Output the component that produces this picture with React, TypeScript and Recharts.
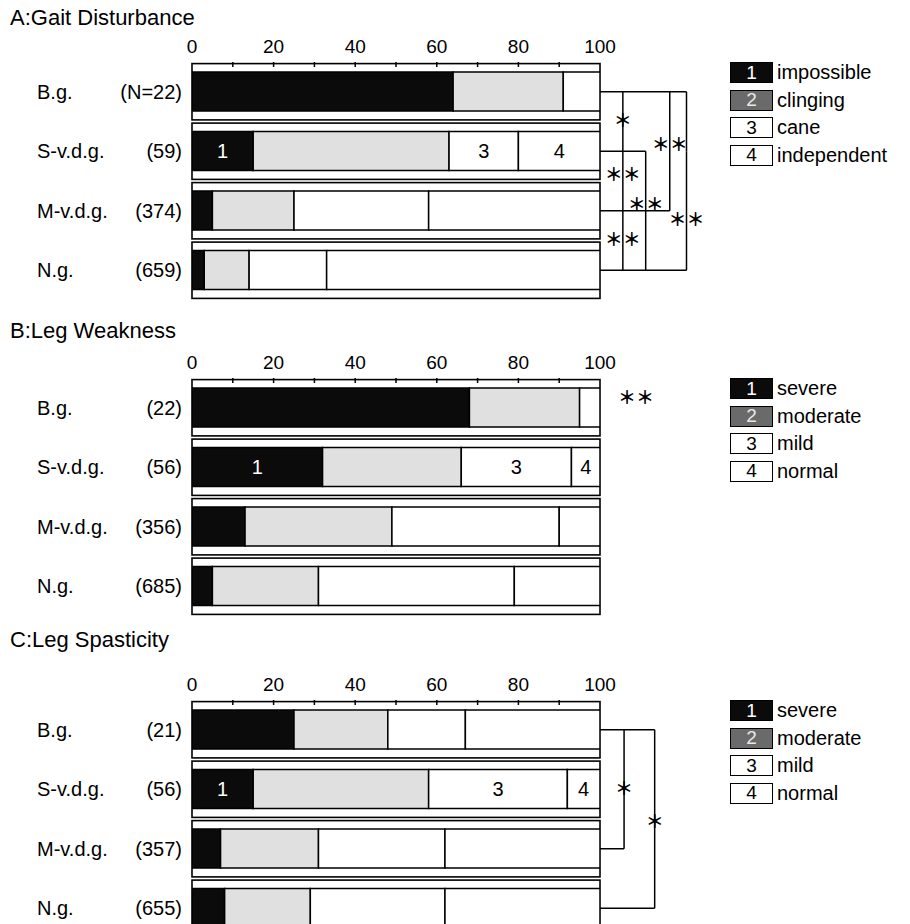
import React from 'react';
import {
  BarChart,
  Bar,
  XAxis,
  YAxis,
  ReferenceArea,
  ReferenceLine,
  ReferenceDot,
  LabelList,
  Legend,
} from 'recharts';

const FONT = '"Liberation Sans", Arial, Helvetica, sans-serif';
const STAR_FONT = '"Noto Sans CJK JP", "Noto Sans CJK SC", sans-serif';

const GROUPS = ['B.g.', 'S-v.d.g.', 'M-v.d.g.', 'N.g.'];
const LABEL_ROW = 'S-v.d.g.';
const MAJOR_TICKS = [0, 20, 40, 60, 80, 100];
const MINOR_TICKS = [10, 20, 30, 40, 50, 60, 70, 80, 90];

// A: Gait disturbance
const GAIT_N = ['N=22', '59', '374', '659'];
const GAIT_1 = [64, 15, 5, 3];
const GAIT_2 = [27, 48, 20, 11];
const GAIT_3 = [9, 17, 33, 19];
const GAIT_4 = [0, 20, 42, 67];
const GAIT_LEGEND = ['impossible', 'clinging', 'cane', 'independent'];

// B: Leg weakness
const WEAK_N = ['22', '56', '356', '685'];
const WEAK_1 = [68, 32, 13, 5];
const WEAK_2 = [27, 34, 36, 26];
const WEAK_3 = [5, 27, 41, 48];
const WEAK_4 = [0, 7, 10, 21];
const WEAK_LEGEND = ['severe', 'moderate', 'mild', 'normal'];

// C: Leg spasticity
const SPAS_N = ['21', '56', '357', '655'];
const SPAS_1 = [25, 15, 7, 8];
const SPAS_2 = [23, 43, 24, 21];
const SPAS_3 = [19, 34, 31, 33];
const SPAS_4 = [33, 8, 38, 38];
const SPAS_LEGEND = ['severe', 'moderate', 'mild', 'normal'];

// significance brackets (x in % units, right of the 100 line)
const GAIT_ARMS = [
  { row: 'B.g.', to: 121.2 },
  { row: 'S-v.d.g.', to: 111.2 },
  { row: 'M-v.d.g.', to: 117.1 },
  { row: 'N.g.', to: 121.2 },
];
const GAIT_LINKS = [
  { x: 105.6, from: 'B.g.', to: 'S-v.d.g.', mark: '＊', nudge: 0 },
  { x: 105.6, from: 'S-v.d.g.', to: 'M-v.d.g.', mark: '＊＊', nudge: -5 },
  { x: 105.6, from: 'M-v.d.g.', to: 'N.g.', mark: '＊＊', nudge: 0 },
  { x: 111.2, from: 'S-v.d.g.', to: 'N.g.', mark: '＊＊', nudge: -5 },
  { x: 117.1, from: 'B.g.', to: 'M-v.d.g.', mark: '＊＊', nudge: -6 },
  { x: 121.2, from: 'B.g.', to: 'S-v.d.g.', mark: '', nudge: 0 },
  { x: 121.2, from: 'S-v.d.g.', to: 'N.g.', mark: '＊＊', nudge: 10 },
];
const WEAK_MARKS = [{ x: 108.8, row: 'B.g.', mark: '＊＊', nudge: -9 }];
const SPAS_ARMS = [
  { row: 'B.g.', to: 113.4 },
  { row: 'M-v.d.g.', to: 105.9 },
  { row: 'N.g.', to: 113.4 },
];
const SPAS_LINKS = [
  { x: 105.9, from: 'B.g.', to: 'M-v.d.g.', mark: '＊', nudge: 0 },
  { x: 113.4, from: 'B.g.', to: 'N.g.', mark: '＊', nudge: 4 },
];

const BAR_FILLS = ['#0b0b0b', '#e0e0e0', '#ffffff', '#ffffff'];
const BOX_FILLS = ['#0b0b0b', '#6a6a6a', '#ffffff', '#ffffff'];
const BOX_TEXT = ['#ffffff', '#e8e8e8', '#000000', '#000000'];

type Arm = { row: string; to: number };
type Link = { x: number; from: string; to: string; mark: string; nudge: number };
type Mark = { x: number; row: string; mark: string; nudge: number };

interface PanelProps {
  top: number;
  counts: string[];
  series: number[][];
  legend: string[];
  arms?: Arm[];
  links?: Link[];
  marks?: Mark[];
}

function GroupTick(props: any) {
  const { x, y, payload, index, counts } = props;
  return (
    <g>
      <text x={x - 145} y={y} dominantBaseline="central" fontSize={20} fontFamily={FONT} fill="#000">
        {payload.value}
      </text>
      <text x={x} y={y} dominantBaseline="central" textAnchor="end" fontSize={20} fontFamily={FONT} fill="#000">
        {`(${counts[index]})`}
      </text>
    </g>
  );
}

// each category band is outlined slightly inset, so neighbouring bands give a double rule
function BandFrame(props: any) {
  const { x, y, width, height } = props;
  return (
    <rect
      x={x}
      y={y + 1.6}
      width={width}
      height={height - 3.2}
      fill="none"
      stroke="#000"
      strokeWidth={1.6}
    />
  );
}

function LegendBoxes({ payload, names }: { payload?: any[]; names: string[] }) {
  const items = [...(payload || [])].sort((a, b) => names.indexOf(a.value) - names.indexOf(b.value));
  return (
    <div style={{ fontFamily: FONT }}>
      {items.map((item) => {
        const i = names.indexOf(item.value);
        return (
          <div key={item.value} style={{ display: 'flex', alignItems: 'center', height: 27.5 }}>
            <span
              style={{
                width: 43,
                height: 21,
                boxSizing: 'border-box',
                border: '1.5px solid #000',
                background: BOX_FILLS[i],
                color: BOX_TEXT[i],
                display: 'flex',
                alignItems: 'center',
                justifyContent: 'center',
                fontSize: 19,
              }}
            >
              {i + 1}
            </span>
            <span style={{ marginLeft: 4, fontSize: 20, color: '#000' }}>{item.value}</span>
          </div>
        );
      })}
    </div>
  );
}

function Panel({ top, counts, series, legend, arms = [], links = [], marks = [] }: PanelProps) {
  const data = GROUPS.map((name, i) => ({
    name,
    g1: series[0][i],
    g2: series[1][i],
    g3: series[2][i],
    g4: series[3][i],
  }));
  const starLabel = (mark: string, nudge: number) => ({
    value: mark,
    position: 'center' as const,
    fontSize: 18,
    fontWeight: 700,
    fill: '#000',
    fontFamily: STAR_FONT,
    dy: nudge - 1,
  });

  return (
    <div style={{ position: 'absolute', left: 0, top: top - 40, width: 910, height: 280 }}>
      <BarChart
        width={910}
        height={280}
        data={data}
        layout="vertical"
        barSize={39}
        margin={{ top: 10, right: 310, bottom: 2, left: 0 }}
      >
        <XAxis
          type="number"
          orientation="top"
          domain={[0, 100]}
          ticks={MAJOR_TICKS}
          interval={0}
          allowDataOverflow
          axisLine={false}
          tickLine={false}
          tickSize={0}
          tickMargin={9}
          height={30}
          tick={{ fill: '#000', fontSize: 19, fontFamily: FONT }}
        />
        <XAxis
          xAxisId="minor"
          type="number"
          orientation="top"
          mirror
          domain={[0, 100]}
          ticks={MINOR_TICKS}
          interval={0}
          allowDataOverflow
          axisLine={false}
          tick={() => <g />}
          tickSize={5}
          tickLine={{ stroke: '#000', strokeWidth: 1.5 }}
          height={30}
        />
        <YAxis
          type="category"
          dataKey="name"
          width={192}
          interval={0}
          axisLine={false}
          tickLine={false}
          tickSize={0}
          tickMargin={10}
          tick={(p: any) => <GroupTick {...p} counts={counts} />}
        />
        {GROUPS.map((g) => (
          <ReferenceArea key={g} y1={g} y2={g} ifOverflow="visible" shape={(p: any) => <BandFrame {...p} />} />
        ))}
        {[0, 1, 2, 3].map((k) => (
          <Bar
            key={k}
            dataKey={`g${k + 1}`}
            name={legend[k]}
            stackId="s"
            fill={BAR_FILLS[k]}
            stroke="#000"
            strokeWidth={1.5}
            isAnimationActive={false}
          >
            <LabelList
              dataKey={(d: any) => (d.name === LABEL_ROW && k !== 1 ? String(k + 1) : undefined)}
              position="center"
              fill={k === 0 ? '#fff' : '#000'}
              fontSize={20}
              fontFamily={FONT}
            />
          </Bar>
        ))}
        {arms.map((a) => (
          <ReferenceLine
            key={`arm-${a.row}`}
            segment={[
              { x: 100, y: a.row },
              { x: a.to, y: a.row },
            ]}
            stroke="#000"
            strokeWidth={1.5}
            ifOverflow="visible"
          />
        ))}
        {links.map((l, i) => (
          <ReferenceLine
            key={`link-${i}`}
            segment={[
              { x: l.x, y: l.from },
              { x: l.x, y: l.to },
            ]}
            stroke="#000"
            strokeWidth={1.5}
            ifOverflow="visible"
            label={l.mark ? starLabel(l.mark, l.nudge) : undefined}
          />
        ))}
        {marks.map((m, i) => (
          <ReferenceDot
            key={`mark-${i}`}
            x={m.x}
            y={m.row}
            r={0}
            fill="none"
            stroke="none"
            ifOverflow="visible"
            label={starLabel(m.mark, m.nudge)}
          />
        ))}
        <Legend
          layout="vertical"
          align="center"
          verticalAlign="middle"
          wrapperStyle={{ left: 730, top: 37, width: 180 }}
          content={(p: any) => <LegendBoxes payload={p.payload} names={legend} />}
        />
      </BarChart>
    </div>
  );
}

const titleStyle: React.CSSProperties = {
  position: 'absolute',
  left: 10,
  fontFamily: FONT,
  fontSize: 22,
  color: '#000',
  lineHeight: '26px',
  whiteSpace: 'nowrap',
};

export default function App() {
  return (
    <div style={{ position: 'absolute', left: 0, top: 0, width: 910, height: 924, background: '#fff', overflow: 'hidden' }}>
      <div style={{ ...titleStyle, top: 5 }}>A:Gait Disturbance</div>
      <div style={{ ...titleStyle, top: 318 }}>B:Leg Weakness</div>
      <div style={{ ...titleStyle, top: 627 }}>C:Leg Spasticity</div>
      <Panel
        top={62}
        counts={GAIT_N}
        series={[GAIT_1, GAIT_2, GAIT_3, GAIT_4]}
        legend={GAIT_LEGEND}
        arms={GAIT_ARMS}
        links={GAIT_LINKS}
      />
      <Panel
        top={378}
        counts={WEAK_N}
        series={[WEAK_1, WEAK_2, WEAK_3, WEAK_4]}
        legend={WEAK_LEGEND}
        marks={WEAK_MARKS}
      />
      <Panel
        top={700}
        counts={SPAS_N}
        series={[SPAS_1, SPAS_2, SPAS_3, SPAS_4]}
        legend={SPAS_LEGEND}
        arms={SPAS_ARMS}
        links={SPAS_LINKS}
      />
    </div>
  );
}
